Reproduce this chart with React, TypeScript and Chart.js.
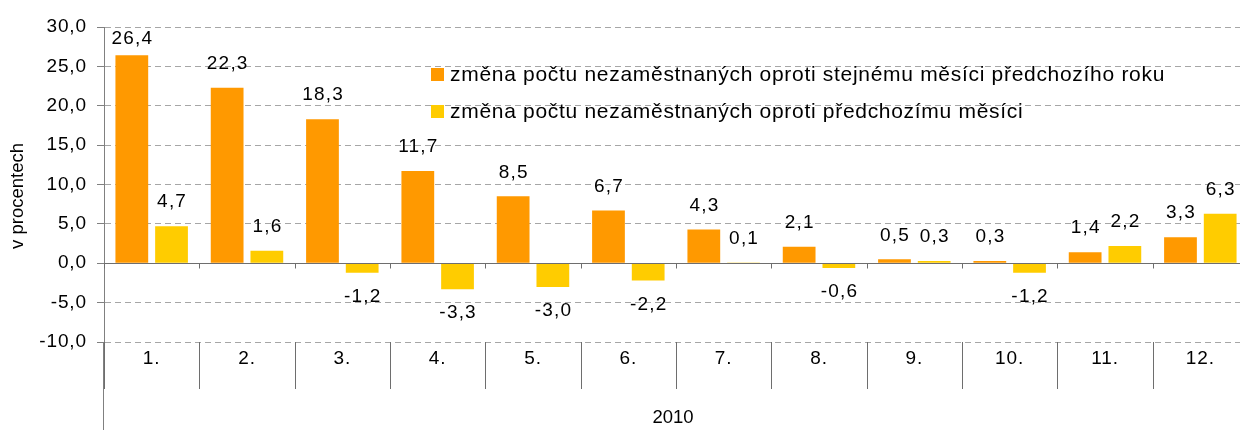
import React, { useEffect, useRef } from "react";
import { Chart, registerables } from "chart.js";

Chart.register(...registerables);

const categories = ["1.", "2.", "3.", "4.", "5.", "6.", "7.", "8.", "9.", "10.", "11.", "12."];
const yearOnYearChange = [26.4, 22.3, 18.3, 11.7, 8.5, 6.7, 4.3, 2.1, 0.5, 0.3, 1.4, 3.3];
const monthOnMonthChange = [4.7, 1.6, -1.2, -3.3, -3.0, -2.2, 0.1, -0.6, 0.3, -1.2, 2.2, 6.3];
const seriesNames = [
  "změna počtu nezaměstnaných oproti stejnému měsíci předchozího roku",
  "změna počtu nezaměstnaných oproti předchozímu měsíci",
];
const seriesColors = ["#FF9900", "#FFCC00"];
const yAxisTitle = "v procentech";
const yearLabel = "2010";
const yMin = -10;
const yMax = 30;
const yStep = 5;

const FONT = "'Liberation Sans', Arial, sans-serif";
const fmt = (v: number) => v.toFixed(1).replace(".", ",");

const overlayPlugin = {
  id: "overlay",
  beforeDraw(chart: any) {
    chart.ctx.letterSpacing = "0.9px";
  },
  afterDraw(chart: any) {
    const ctx = chart.ctx;
    const { left, right, top, bottom } = chart.chartArea;
    const xs = chart.scales.x;
    const ys = chart.scales.y;
    const y0 = Math.round(ys.getPixelForValue(0)) + 0.5;
    const half = (xs.getPixelForValue(1) - xs.getPixelForValue(0)) / 2;
    ctx.save();
    // zero line
    ctx.strokeStyle = "#6e6e6e";
    ctx.lineWidth = 1;
    ctx.setLineDash([]);
    ctx.beginPath();
    ctx.moveTo(left, y0);
    ctx.lineTo(right, y0);
    ctx.stroke();
    // category boundaries
    for (let i = 0; i <= categories.length; i++) {
      const bx = Math.round(xs.getPixelForValue(i) - half) + 0.5;
      ctx.beginPath();
      ctx.moveTo(bx, y0);
      ctx.lineTo(bx, y0 + 5);
      ctx.stroke();
      ctx.beginPath();
      ctx.moveTo(bx, bottom);
      ctx.lineTo(bx, bottom + 47);
      ctx.stroke();
    }
    // left axis extension
    const ax = Math.round(left) - 0.5;
    ctx.strokeStyle = "#808080";
    ctx.beginPath();
    ctx.moveTo(ax, bottom);
    ctx.lineTo(ax, chart.height);
    ctx.stroke();

    // data labels
    ctx.fillStyle = "#000";
    ctx.font = `19px ${FONT}`;
    ctx.letterSpacing = "1.2px";
    ctx.textAlign = "center";
    ctx.textBaseline = "middle";
    chart.data.datasets.forEach((ds: any, di: number) => {
      const meta = chart.getDatasetMeta(di);
      meta.data.forEach((bar: any, i: number) => {
        const v = ds.data[i];
        let cy = v >= 0 ? bar.y - 24 : bar.y + 24;
        cy = Math.max(cy, top + 12);
        ctx.fillText(fmt(v), bar.x + 0.6, cy);
      });
    });

    // legend
    ctx.font = `21px ${FONT}`;
    ctx.letterSpacing = "0.7px";
    ctx.textAlign = "left";
    const legendRows = [75, 112];
    seriesNames.forEach((name, i) => {
      const cy = legendRows[i];
      ctx.fillStyle = seriesColors[i];
      ctx.fillRect(431, cy - 7, 13, 13);
      ctx.fillStyle = "#000";
      ctx.fillText(name, 450, cy);
    });

    // axis titles
    ctx.font = `18.5px ${FONT}`;
    ctx.letterSpacing = "0px";
    ctx.textAlign = "center";
    ctx.fillText(yearLabel, (left + right) / 2 - 3, 418);
    ctx.save();
    ctx.translate(18, 196);
    ctx.rotate(-Math.PI / 2);
    ctx.fillText(yAxisTitle, 0, 0);
    ctx.restore();
    ctx.restore();
  },
};

export default function App() {
  const ref = useRef<HTMLCanvasElement | null>(null);
  useEffect(() => {
    if (!ref.current) return;
    Chart.defaults.font.family = FONT;
    const chart = new Chart(ref.current, {
      type: "bar",
      data: {
        labels: categories,
        datasets: [
          {
            label: seriesNames[0],
            data: yearOnYearChange,
            backgroundColor: seriesColors[0],
            categoryPercentage: 0.833,
            barPercentage: 0.825,
          },
          {
            label: seriesNames[1],
            data: monthOnMonthChange,
            backgroundColor: seriesColors[1],
            categoryPercentage: 0.833,
            barPercentage: 0.825,
          },
        ],
      },
      options: {
        responsive: false,
        maintainAspectRatio: false,
        animation: false,
        layout: { padding: { top: 27, right: 2, left: 0, bottom: 0 } },
        plugins: { legend: { display: false }, tooltip: { enabled: false } },
        scales: {
          x: {
            grid: { display: false, drawTicks: false },
            border: { display: false },
            ticks: { font: { size: 19, family: FONT }, color: "#000", padding: 5 },
            afterFit: (s: any) => {
              s.height = 88;
            },
          },
          y: {
            min: yMin,
            max: yMax,
            ticks: {
              stepSize: yStep,
              font: { size: 19, family: FONT },
              color: "#000",
              padding: 10,
              callback: (v: any) => fmt(Number(v)),
            },
            grid: {
              color: (c: any) => (c.tick && c.tick.value === 0 ? "rgba(0,0,0,0)" : "#a6a6a6"),
              tickColor: "#808080",
              tickLength: 7,
              tickBorderDash: [],
              drawTicks: true,
            },
            border: { display: true, color: "#808080", width: 1, dash: [6, 4] },
            afterFit: (s: any) => {
              s.width = 104;
            },
          },
        },
      },
      plugins: [overlayPlugin],
    });
    return () => chart.destroy();
  }, []);
  return (
    <div
      style={{
        position: "fixed",
        left: 0,
        top: 0,
        width: 1240,
        height: 430,
        overflow: "hidden",
        background: "#fff",
      }}
    >
      <canvas ref={ref} width={1250} height={430} style={{ display: "block" }} />
    </div>
  );
}
